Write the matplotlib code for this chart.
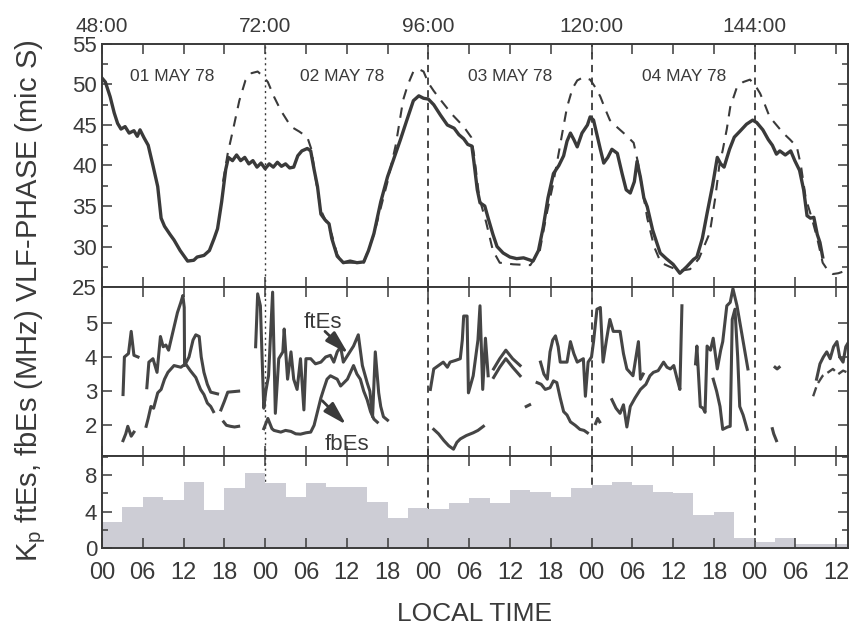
import numpy as np
import matplotlib
matplotlib.use("Agg")
from matplotlib import pyplot as plt
from matplotlib.ticker import FuncFormatter, MultipleLocator

plt.rcParams['font.family'] = ['Liberation Sans', 'DejaVu Sans']
nan = np.nan

# VLF phase, solid (observed) curve: hours, microseconds
vlf_t = [48.0, 48.5, 49.2, 49.8, 50.3, 50.8, 51.4, 52.0, 52.7, 53.2, 53.6, 54.2, 54.8, 55.5, 56.2, 56.7,
         57.2, 58.0, 58.6, 59.5, 60.6, 61.5, 62.0, 63.0, 63.8, 64.5, 65.0, 65.6, 66.2, 66.6, 67.2, 67.8,
         68.4, 69.0, 69.6, 70.2, 70.8, 71.4, 72.0, 72.6, 73.2, 73.8, 74.4, 75.0, 75.6, 76.2, 76.8, 77.4,
         78.2, 78.7, 79.2, 79.7, 80.2, 80.8, 81.4, 81.8, 82.6, 83.5, 84.5, 85.5, 86.5, 87.2, 88.0, 89.0,
         90.0, 91.0, 91.9, 92.8, 93.8, 94.6, 95.3, 96.0, 96.8, 97.8, 98.8, 99.8, 100.5, 101.2, 101.8,
         102.4, 102.7, 103.2, 103.6, 104.3, 104.8, 105.5, 106.1, 107.0, 108.0, 109.0, 110.0, 111.4,
         112.2, 112.9, 113.6, 114.4, 115.2, 115.9, 116.4, 116.9, 117.4, 117.9, 118.6, 119.4, 119.8,
         120.3, 120.8, 121.3, 121.8, 122.4, 123.0, 123.8, 124.5, 125.1, 125.7, 126.3, 126.7, 127.2,
         127.7, 128.2, 129.0, 130.1, 131.0, 132.0, 133.0, 134.0, 135.0, 135.5, 136.3, 137.0, 137.8,
         138.5, 139.0, 139.5, 140.3, 141.0, 141.8, 142.8, 143.7, 144.3, 145.2, 146.0, 146.6, 147.2,
         147.7, 148.5, 149.3, 149.9, 150.6, 151.2, 151.7, 152.2, 152.7, 153.2, 153.6, 154.0]
vlf_v = [50.8, 50.3, 48.5, 46.5, 45.2, 44.5, 44.8, 44.0, 44.3, 43.6, 44.4, 43.4, 42.5, 40.0, 37.4, 33.5,
         32.5, 31.5, 30.8, 29.5, 28.2, 28.3, 28.7, 28.9, 29.5, 31.0, 32.2, 35.5, 39.5, 41.0, 40.6, 41.3,
         40.6, 41.0, 40.2, 40.6, 39.8, 40.3, 39.6, 40.2, 39.8, 40.4, 39.9, 40.2, 39.7, 39.8, 41.2, 41.8,
         42.1, 41.8, 39.5, 37.4, 34.0, 33.3, 32.8, 31.0, 28.8, 28.0, 28.2, 28.0, 28.1, 29.5, 31.6, 35.5,
         38.6, 41.0, 43.2, 45.5, 48.0, 48.6, 48.3, 48.2, 47.5, 46.2, 45.0, 44.6, 43.8, 43.3, 42.6,
         42.4, 40.5, 37.0, 35.4, 35.0, 33.5, 31.5, 30.0, 29.2, 28.7, 28.5, 28.6, 28.2,
         29.5, 32.4, 36.0, 39.0, 40.0, 41.2, 43.0, 44.0, 43.2, 42.3, 44.0, 45.0, 46.0,
         45.6, 43.8, 42.0, 40.3, 41.0, 42.0, 41.5, 39.0, 37.0, 36.6, 38.0, 40.5, 38.5,
         36.0, 34.9, 32.0, 29.2, 28.5, 27.8, 26.7, 27.5, 28.4, 28.7, 31.0, 34.1, 37.5,
         41.0, 40.2, 39.8, 42.0, 43.5, 44.2, 45.1, 45.6, 45.3, 44.4, 43.2, 42.5, 41.4,
         41.8, 41.3, 41.8, 40.6, 39.4, 37.0, 33.8, 33.5, 33.6, 31.5, 30.5, 28.7]

# VLF phase, dashed (reference) curve
ref_t = [65.8, 66.5, 67.3, 68.2, 69.1, 70.0, 70.9, 71.7, 72.4, 73.3, 74.3, 75.8, 77.0, 78.2, 78.8, 79.5,
         80.2, 81.0, 81.8, 82.6, 83.5, 86.5, 88.0, 90.0, 91.2, 92.3, 93.0, 93.8, 94.6, 95.3, 96.0, 96.8,
         97.8, 99.5, 101.2, 102.3, 102.7, 103.5, 104.5, 105.5, 106.5, 108.5, 111.0, 112.4, 113.4, 114.3,
         115.0, 115.7, 116.4, 117.2, 117.9, 118.8, 119.8, 120.6, 121.3, 122.0, 122.7, 123.8, 125.0,
         126.2, 126.8, 127.3, 128.2, 129.2, 130.2, 131.5, 133.0, 134.5, 135.8, 136.8, 137.4, 138.2,
         138.8, 139.3, 139.9, 140.4, 141.4, 142.3, 143.3, 144.0, 144.8, 145.5, 146.2, 147.2, 148.2,
         149.2, 150.2, 150.8, 151.5, 152.4, 153.2, 154.0, 154.8, 155.5, 156.3, 157.0]
ref_v = [38.0, 41.5, 44.5, 48.0, 50.5, 51.4, 51.6, 51.0, 50.3, 48.5, 46.8, 44.8, 44.2, 43.5, 42.0, 38.0,
         34.5, 33.0, 31.5, 29.0, 28.0, 28.0, 31.5, 38.0, 42.5, 48.1, 50.0, 51.6, 51.9, 51.6, 50.2, 49.2,
         48.1, 46.3, 44.8, 43.5, 41.5, 36.0, 33.0, 29.5, 28.0, 27.8, 27.7, 29.5, 34.0, 37.5,
         40.7, 44.0, 47.2, 49.5, 50.5, 50.9, 50.6, 49.6, 48.5, 47.0, 45.6, 44.7, 43.8,
         42.8, 40.5, 38.0, 33.5, 30.0, 28.0, 27.5, 27.0, 27.2, 28.5, 30.5, 31.7, 36.0,
         40.0, 41.9, 44.5, 47.2, 49.7, 50.3, 50.6, 50.0, 48.9, 47.5, 46.0, 45.0, 44.0,
         43.2, 42.3, 40.0, 36.0, 33.5, 31.0, 28.0, 27.0, 26.6, 26.7, 26.9]

# ftEs (MHz), gaps as nan
ftes_t = [51.1, 51.3, 51.9, 52.3, 52.7, 53.3, nan,
          54.6, 54.9, 55.5, 56.1, 56.6, 57.0, 57.4, 57.8, 58.5, 59.1, 59.6, 59.9, 60.1, 60.15, 60.8,
          61.4, 61.8, 62.3, 62.6, 63.0, 63.5, 64.0, 65.0, nan,
          65.5, 66.0, 66.5, 68.1, nan,
          70.6, 70.9, 71.3, 71.8, 72.1, 72.5, 73.1, 73.5, 74.0, 74.6, 74.8, 75.3, 75.8, 76.2, 76.7,
          77.2, 77.7, 78.0, 78.7, 79.4, 80.2, 80.9, 81.6, 82.1, 82.6, 83.1, 83.5, 84.3, 85.0, 85.7,
          86.3, 87.0, 87.4, 87.8, 88.2, 88.7, 89.0, 89.4, 90.0, nan,
          96.3, 96.8, 97.5, 98.2, 98.8, 99.2, 100.0, 100.7, 101.0, 101.2, 101.7, 101.9, 102.6, 103.3,
          103.6, 104.0, 104.4, 104.8, nan,
          105.6, 106.5, 107.4, 108.4, 109.5, nan,
          112.5, 113.0, 113.5, 113.9, 114.3, 114.7, 115.1, 115.4, 116.4, 116.9, 117.4, 117.9, 118.8,
          119.1, 119.5, 120.0, 120.3, 120.8, 121.3, 121.7, 122.2, 122.7, 123.2, 124.2, 124.7, 125.2,
          126.1, 126.9, 127.2, 127.6, nan,
          135.3, 135.5, 136.0, 136.4, 136.7, 137.0, 137.5, 137.9, 138.5, 139.0, 139.3, 139.9, 140.4,
          140.8, 141.4, 142.3, 143.0, nan,
          147.0, 147.3, 147.6, nan,
          153.1, 153.6, 154.1, 154.6, 155.1, 155.6, 156.1, 156.5, 157.0, 157.4, 157.7]
ftes_v = [2.9, 4.0, 4.1, 4.75, 4.05, 4.0, nan,
          3.1, 3.85, 3.95, 3.55, 4.6, 4.3, 4.35, 4.2, 4.8, 5.3, 5.6, 5.8, 5.45, 3.75, 4.0,
          4.5, 4.65, 4.6, 4.0, 3.55, 3.2, 2.97, 2.92, nan,
          2.45, 2.7, 2.97, 3.0, nan,
          4.3, 5.85, 5.5, 2.5, 3.0, 3.45, 5.9, 2.35, 3.95, 4.15, 4.82, 3.35, 4.15, 3.35, 3.05,
          3.95, 2.45, 3.95, 3.95, 3.8, 3.85, 4.0, 4.05, 3.85, 4.15, 4.3, 3.85, 4.1, 4.32, 4.65,
          3.75, 3.25, 3.0, 2.25, 4.15, 2.95, 2.55, 2.25, 2.15, nan,
          3.05, 3.65, 3.75, 3.85, 3.7, 3.85, 3.9, 3.95, 4.5, 5.2, 5.2, 2.95, 3.45, 4.5,
          5.5, 3.05, 4.55, 3.45, nan,
          3.65, 3.95, 4.2, 3.95, 3.75, nan,
          3.85, 3.5, 3.35, 4.15, 4.5, 4.62, 4.3, 3.85, 3.85, 4.45, 4.1, 3.85, 3.95,
          2.85, 3.85, 4.0, 4.45, 5.4, 5.45, 3.85, 4.5, 5.1, 4.75, 4.75, 4.1, 3.65,
          3.45, 4.45, 3.35, 3.5, nan,
          3.8, 4.32, 2.55, 2.5, 2.38, 4.32, 4.2, 4.55, 3.65, 4.2, 4.45, 5.5, 5.6,
          6.0, 5.5, 4.45, 3.65, nan,
          3.7, 3.65, 3.7, nan,
          3.35, 3.8, 4.0, 4.15, 3.95, 4.3, 4.45, 4.0, 3.85, 4.3, 4.4]

# fbEs (MHz)
fbes_t = [51.1, 51.5, 51.8, 52.3, 52.7, nan,
          54.5, 54.8, 55.2, 55.6, 56.2, 56.7, 57.2, 57.7, 58.6, 59.6, 60.3, 61.0, 61.8, 62.5, 63.0,
          63.5, 64.0, 64.4, nan,
          65.9, 66.3, 66.9, 67.5, 68.1, nan,
          71.8, 72.4, 73.0, 73.3, 74.3, 75.0, 75.8, 76.5, 77.2, 78.0, 78.7, 79.2, 79.7, 80.2, 80.6,
          81.1, 81.6, 82.6, 83.1, 84.1, 85.0, 85.5, 86.0, 86.5, 87.0, 87.5, 88.0, 88.5, nan,
          96.8, 97.5, 98.3, 99.0, 99.7, 100.2, 100.7, 101.6, 102.6, 103.3, 104.1, nan,
          105.6, 106.5, 107.4, 108.4, 109.5, nan,
          110.4, 110.9, nan,
          112.0, 112.6, 113.2, 113.9, 114.4, 114.9, 115.4, 115.9, 116.4, 116.9, 117.6, 118.3, 118.9,
          119.4, nan,
          120.6, 120.9, 121.2, nan,
          123.0, 123.6, 124.2, 124.7, 125.2, 125.7, 126.4, 127.2, 128.0, 128.6, 129.1, 129.8, 130.6,
          131.1, 131.6, 132.1, 132.6, 133.0, 133.3, nan,
          137.9, 138.4, 138.9, 139.3, 140.0, 140.4, 140.7, 141.1, 141.5, 141.8, 142.3, 142.9, nan,
          146.6, 146.8, 147.2]
fbes_v = [1.55, 1.75, 1.97, 1.68, 1.8, nan,
          1.97, 2.2, 2.55, 2.5, 2.95, 3.05, 3.35, 3.55, 3.75, 3.7, 3.8, 3.6, 3.4, 3.05, 2.9,
          2.65, 2.55, 2.4, nan,
          2.1, 2.0, 1.97, 1.95, 1.97, nan,
          1.9, 2.2, 1.9, 1.85, 1.8, 1.85, 1.82, 1.75, 1.74, 1.78, 1.8, 2.0, 2.4, 2.8, 3.05,
          3.35, 3.45, 3.35, 3.15, 3.35, 3.75, 3.5, 3.35, 3.0, 2.75, 2.4, 2.18, 2.09, nan,
          1.88, 1.75, 1.55, 1.4, 1.3, 1.5, 1.6, 1.7, 1.78, 1.85, 1.97, nan,
          3.4, 3.7, 3.95, 3.7, 3.45, nan,
          2.55, 2.6, nan,
          3.25, 3.2, 3.05, 3.1, 3.3, 3.25, 2.8, 2.4, 2.3, 2.1, 2.0, 1.88, 1.85,
          1.78, nan,
          2.05, 2.2, 2.1, nan,
          2.75, 2.5, 2.35, 2.6, 1.95, 2.55, 2.8, 3.05, 3.2, 3.45, 3.55, 3.6, 3.85,
          3.7, 3.65, 3.75, 3.35, 3.05, 5.5, nan,
          3.35, 3.0, 2.55, 1.88, 1.95, 1.97, 5.1, 5.4, 4.0, 2.55, 2.3, 1.88, nan,
          1.9, 1.75, 1.55]

# fbEs, last day (dashed)
fbes2_t = [152.6, 153.2, 154.0, 154.8, 155.5, 156.3, 157.0, 157.6]
fbes2_v = [2.85, 3.2, 3.45, 3.55, 3.65, 3.5, 3.6, 3.55]

# 3-hourly Kp starting 48:00
kp_start = 48
kp = [2.9, 4.5, 5.6, 5.3, 7.2, 4.2, 6.6, 8.2, 7.1, 5.6, 7.1, 6.7, 6.7, 5.1, 3.3, 4.4,
      4.3, 4.9, 5.5, 4.9, 6.4, 6.2, 5.6, 6.6, 6.9, 7.3, 6.9, 6.2, 6.0, 3.6, 4.0, 1.1,
      0.7, 1.1, 0.4, 0.4, 0.4]

day_labels = ['01 MAY 78', '02 MAY 78', '03 MAY 78', '04 MAY 78']
day_pos = [58.3, 83.3, 108.0, 133.6]
midnights = [72, 96, 120, 144]

ink = '#3a3a3a'
fig = plt.figure(figsize=(8.59, 6.33), dpi=100)
L, W = 0.1187, 0.8683
ax1 = fig.add_axes([L, 0.5466, W, 0.3839])
ax2 = fig.add_axes([L, 0.2796, W, 0.2670])
ax3 = fig.add_axes([L, 0.1343, W, 0.1453])

ax1.plot(ref_t, ref_v, color=ink, lw=1.5, ls=(0, (5, 4)))
ax1.plot(vlf_t, vlf_v, color=ink, lw=2.4)
for lab, x in zip(day_labels, day_pos):
    ax1.text(x, 51.0, lab, ha='center', va='center', fontsize=12.5, color=ink)
ax1.set_ylim(25, 55)
ax1.yaxis.set_major_locator(MultipleLocator(5))
ax1.yaxis.set_minor_locator(MultipleLocator(2.5))

ax2.plot(ftes_t, ftes_v, color='#454545', lw=2.2)
ax2.plot(fbes_t, fbes_v, color='#454545', lw=2.2)
ax2.plot(fbes2_t, fbes2_v, color='#454545', lw=1.7, ls=(0, (4, 2)))
ax2.set_ylim(1.1, 6.05)
ax2.set_yticks([2, 3, 4, 5])
ax2.text(80.5, 5.02, 'ftEs', ha='center', va='center', fontsize=16, color=ink)
ax2.text(84.1, 1.45, 'fbEs', ha='center', va='center', fontsize=16, color=ink)
arrow = dict(arrowstyle='-|>,head_width=0.4,head_length=1.4', color=ink, lw=2.0,
             shrinkA=0, shrinkB=0)
ax2.annotate('', xy=(84.2, 4.1), xytext=(80.8, 4.75), arrowprops=arrow)
ax2.annotate('', xy=(83.9, 2.02), xytext=(80.4, 2.72), arrowprops=arrow)

kp_x = [kp_start + 3 * i for i in range(len(kp))]
ax3.bar(kp_x, kp, width=3, align='edge', color='#cdcdd5', edgecolor='none')
ax3.set_ylim(0, 10.1)
ax3.set_yticks([0, 4, 8])
ax3.yaxis.set_minor_locator(MultipleLocator(2))

for ax in (ax1, ax2, ax3):
    ax.set_xlim(48, 157.7)
    ax.xaxis.set_major_locator(MultipleLocator(6))
    ax.axvline(72, color=ink, lw=1.0, ls=(0, (1.5, 2.5)), zorder=0)
    for m in midnights[1:]:
        ax.axvline(m, color=ink, lw=1.3, ls=(0, (4, 3)), zorder=0)
    ax.tick_params(which='both', direction='in', top=True, right=True, width=1.1,
                   labelsize=16, colors=ink, labelcolor=ink)
    ax.tick_params(which='major', length=7)
    ax.tick_params(which='minor', length=4)
    for s in ax.spines.values():
        s.set_linewidth(1.4)
        s.set_color(ink)

ax1.tick_params(axis='x', labelbottom=False, labeltop=True, labelsize=15, pad=6)
ax1.xaxis.set_major_formatter(FuncFormatter(lambda x, p: '%d:00' % x if x % 24 == 0 else ''))
ax2.tick_params(axis='x', labelbottom=False)
ax3.xaxis.set_major_formatter(FuncFormatter(lambda x, p: '%02d' % (int(x) % 24)))
ax3.tick_params(axis='x', labelsize=17, pad=10)

fig.text(0.552, 0.03, 'LOCAL TIME', ha='center', va='center', fontsize=19, color=ink)
fig.text(0.036, 0.525, r'$\mathregular{K_p}$ ftEs, fbEs (MHz) VLF-PHASE (mic S)',
         rotation=90, ha='center', va='center', fontsize=21, color=ink)

fig.savefig('out.png', dpi=100, facecolor='white')
